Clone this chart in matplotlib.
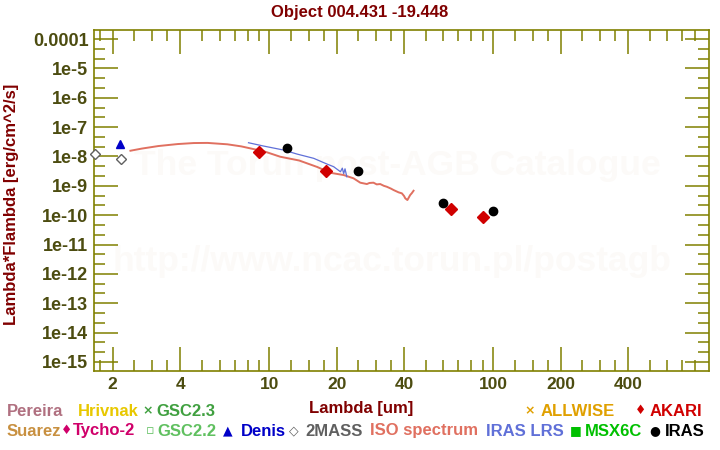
import numpy as np
import matplotlib
matplotlib.use("Agg")
import matplotlib.pyplot as plt
from matplotlib.ticker import FixedLocator, FixedFormatter, NullFormatter

plt.rcParams['font.family'] = ['Liberation Sans', 'DejaVu Sans']
plt.rcParams['font.weight'] = 'bold'

# photometry, wavelength [um] / lambda*F_lambda [erg/cm^2/s]
mass2_wave = [1.66, 2.17]
mass2_flux = [1.2e-8, 8.2e-9]
denis_wave = [2.15]
denis_flux = [2.7e-8]
akari_wave = [9.0, 18.0, 65.0, 90.0]
akari_flux = [1.45e-8, 3.2e-9, 1.58e-10, 8.5e-11]
iras_wave = [12.0, 25.0, 60.0, 100.0]
iras_flux = [1.9e-8, 3.19e-9, 2.5e-10, 1.36e-10]

# ISO spectrum
iso_wave = [2.40, 2.7, 3.2, 3.9, 4.6, 5.3, 6.5, 7.5, 8.5, 9.4, 11.2, 13.6, 16.4,
            18.7, 21.5, 23.8, 25.5, 27.3, 28.0, 29.2, 30.2, 31.3, 32.5, 33.5,
            35.0, 35.9, 37.8, 39.1, 40.0, 40.5, 41.4, 42.0, 42.6, 43.3, 44.1]
iso_flux = [1.57e-8, 1.86e-8, 2.27e-8, 2.65e-8, 2.87e-8, 2.9e-8, 2.6e-8, 2.21e-8,
            1.79e-8, 1.53e-8, 9.8e-9, 7.3e-9, 4.37e-9, 2.79e-9, 2.33e-9, 1.8e-9,
            1.28e-9, 1.15e-9, 1.25e-9, 1.28e-9, 1.12e-9, 1.15e-9, 1.0e-9, 9.3e-10,
            8.0e-10, 7.2e-10, 6.0e-10, 5.55e-10, 4.5e-10, 3.75e-10, 3.28e-10,
            4.0e-10, 4.86e-10, 5.6e-10, 6.8e-10]

# IRAS LRS spectrum
lrs_wave = [8.08, 9.43, 11.58, 13.3, 15.8, 18.1, 19.4, 20.8, 21.2, 21.5, 21.8, 22.2]
lrs_flux = [2.94e-8, 2.27e-8, 1.66e-8, 1.21e-8, 8.65e-9, 5.53e-9, 4.48e-9, 3.02e-9,
            4.0e-9, 2.6e-9, 3.8e-9, 2.04e-9]

x_ticks = [2, 4, 10, 20, 40, 100, 200, 400]
x_minor = [1.75, 2.5, 3, 3.5, 5, 6, 7, 8, 9, 12.5, 15, 17.5, 25, 30, 35, 50, 60, 70,
           80, 90, 125, 150, 175, 250, 300, 350, 500, 600, 700, 800]
y_exps = list(range(-4, -16, -1))
y_labels = ['0.0001'] + ['1e%d' % e for e in y_exps[1:]]

axis_col = '#808000'
tick_col = '#4c4c10'
title_col = '#800000'

W, H = 720, 450
fig = plt.figure(figsize=(7.2, 4.5), dpi=100)
ax = fig.add_axes([94 / W, (H - 371) / H, (709 - 94) / W, (371 - 30) / H])
ax.set_xscale('log')
ax.set_yscale('log')
ax.set_xlim(1.65, 920)
ax.set_ylim(10 ** -15.31, 10 ** -3.69)

ax.text(0.494, 0.604, 'The Torun post-AGB Catalogue', transform=ax.transAxes,
        ha='center', va='center', fontsize=25.5, color='#fcfaf8', zorder=0)
ax.text(0.485, 0.32, 'http://www.ncac.torun.pl/postagb', transform=ax.transAxes,
        ha='center', va='center', fontsize=25.5, color='#fcfaf8', zorder=0)

ax.plot(iso_wave, iso_flux, color='#e07060', lw=1.4, zorder=2)
ax.plot(lrs_wave, lrs_flux, color='#6070d8', lw=0.9, zorder=3)
ax.plot(mass2_wave, mass2_flux, 'D', mfc='white', mec='#606060', ms=5, mew=1,
        zorder=4, clip_on=False)
ax.plot(denis_wave, denis_flux, '^', color='#0000c8', ms=6, zorder=4)
ax.plot(akari_wave, akari_flux, 'D', color='#d00000', ms=6, zorder=5)
ax.plot(iras_wave, iras_flux, 'o', color='black', ms=6, zorder=5)

ax.xaxis.set_major_locator(FixedLocator(x_ticks))
ax.xaxis.set_major_formatter(FixedFormatter([str(t) for t in x_ticks]))
ax.xaxis.set_minor_locator(FixedLocator(x_minor))
ax.xaxis.set_minor_formatter(NullFormatter())
ax.yaxis.set_major_locator(FixedLocator([10.0 ** e for e in y_exps]))
ax.yaxis.set_major_formatter(FixedFormatter(y_labels))
y_minor = []
for e in y_exps:
    y_minor += [10.0 ** (e - 1 / 3), 10.0 ** (e - 2 / 3)]
ax.yaxis.set_minor_locator(FixedLocator(y_minor))
ax.yaxis.set_minor_formatter(NullFormatter())

ax.tick_params(which='both', direction='in', top=True, right=True, color=axis_col,
               width=1.1, labelcolor=tick_col)
ax.tick_params(axis='y', labelsize=13)
ax.tick_params(axis='x', labelsize=12.5)
ax.tick_params(which='major', length=17, pad=4)
ax.tick_params(which='minor', length=8)
for s in ax.spines.values():
    s.set_color(axis_col)
    s.set_linewidth(1.2)

fig.text(0.5, 1 - 12 / H, 'Object 004.431 -19.448', ha='center', va='center',
         fontsize=12, color=title_col)
fig.text(361 / W, 1 - 409 / H, 'Lambda [um]', ha='center', va='center',
         fontsize=12, color=title_col)
fig.text(12 / W, 1 - 204 / H, 'Lambda*Flambda [erg/cm^2/s]', ha='center', va='center',
         rotation=90, fontsize=12, color=title_col)

# catalogue legend: (marker, label, color, x of marker, x of label, row y)
legend_items = [
    ('', 'Pereira', '#b07080', 0, 7, 411),
    ('', 'Hrivnak', '#e8c800', 0, 78, 411),
    ('\u00d7', 'GSC2.3', '#40a040', 148, 156, 411),
    ('\u00d7', 'ALLWISE', '#e0a000', 530, 541, 411),
    ('\u2666', 'AKARI', '#d00000', 641, 650, 411),
    ('', 'Suarez', '#c89040', 0, 7, 431),
    ('\u2666', 'Tycho-2', '#d0006a', 67, 73, 431),
    ('\u25ab', 'GSC2.2', '#60c060', 150, 157, 431),
    ('\u25b2', 'Denis', '#0000c8', 228, 241, 431),
    ('\u25c7', '2MASS', '#606060', 294, 305, 431),
    ('', 'ISO spectrum', '#e07060', 0, 370, 431),
    ('', 'IRAS LRS', '#6070d8', 0, 486, 431),
    ('\u25a0', 'MSX6C', '#00c000', 576, 585, 431),
    ('\u25cf', 'IRAS', 'black', 655, 665, 431),
]
for mk, lab, col, xm, xl, yr in legend_items:
    if mk:
        fig.text(xm / W, 1 - yr / H, mk, ha='center', va='center', fontsize=9,
                 color=col, family=['DejaVu Sans'])
    fig.text(xl / W, 1 - yr / H, lab, ha='left', va='center', fontsize=12, color=col)

fig.savefig('out.png', dpi=100, facecolor='white')
